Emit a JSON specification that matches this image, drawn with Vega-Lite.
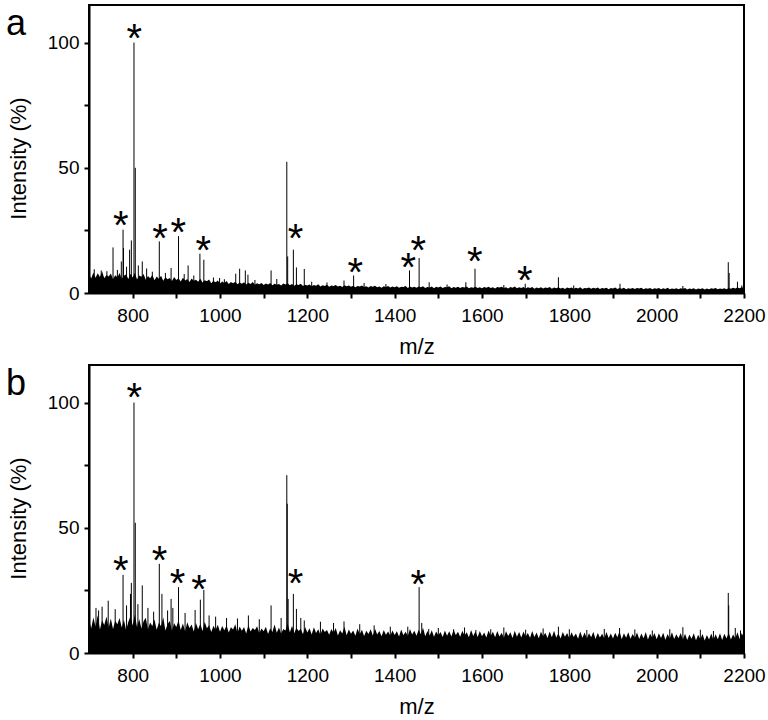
{
"$schema":"https://vega.github.io/schema/vega-lite/v6.json",
"padding":{"left":5,"top":4,"right":5,"bottom":4},
"spacing":6,
"config":{
 "view":{"stroke":"black","strokeWidth":2},
 "font":"Liberation Sans",
 "axis":{"grid":false,"domainColor":"black","domainWidth":2,"tickColor":"black","tickWidth":2,"tickSize":5,"labelColor":"black","titleColor":"black","labelFontSize":19,"titleFontSize":22,"titleFontWeight":"normal","labelFont":"Liberation Sans","titleFont":"Liberation Sans","labelFlush":false,"labelOverlap":false,"format":"d"}
},
"datasets":{
"s":[
{"m":700,"a":7.5,"b":13.5},{"m":705,"a":5.8,"b":9.8},{"m":710,"a":8.2,"b":14.2},{"m":715,"a":6.1,"b":10.6},{"m":720,"a":7.9,"b":15.1},{"m":725,"a":6.4,"b":9.4},{"m":730,"a":8.6,"b":13.0},{"m":735,"a":5.9,"b":11.2},{"m":740,"a":7.2,"b":14.6},{"m":745,"a":6.6,"b":10.1},
{"m":750,"a":7.8,"b":13.8},{"m":755,"a":5.5,"b":9.6},{"m":760,"a":7.1,"b":12.9},{"m":765,"a":6.3,"b":11.5},{"m":770,"a":8.0,"b":14.0},{"m":775,"a":5.7,"b":10.2},{"m":780,"a":6.9,"b":13.3},{"m":785,"a":7.4,"b":9.1},{"m":790,"a":5.6,"b":12.4},{"m":795,"a":7.7,"b":14.8},
{"m":800,"a":6.2,"b":11.0},{"m":805,"a":8.1,"b":15.5},{"m":810,"a":5.4,"b":10.3},{"m":815,"a":7.0,"b":13.6},{"m":820,"a":6.5,"b":9.8},{"m":825,"a":7.6,"b":12.7},{"m":830,"a":5.3,"b":14.1},{"m":835,"a":6.8,"b":9.5},{"m":840,"a":5.9,"b":12.2},{"m":845,"a":7.2,"b":10.8},
{"m":850,"a":5.1,"b":13.4},{"m":855,"a":6.6,"b":9.3},{"m":860,"a":5.7,"b":12.1},{"m":865,"a":6.9,"b":10.7},{"m":870,"a":4.9,"b":14.3},{"m":875,"a":6.3,"b":9.0},{"m":880,"a":5.5,"b":11.6},{"m":885,"a":6.0,"b":12.8},{"m":890,"a":4.8,"b":8.9},{"m":895,"a":6.4,"b":11.9},
{"m":900,"a":5.2,"b":10.4},{"m":905,"a":5.9,"b":13.1},{"m":910,"a":4.6,"b":9.2},{"m":915,"a":6.1,"b":11.8},{"m":920,"a":5.0,"b":8.7},{"m":925,"a":5.6,"b":12.3},{"m":930,"a":4.4,"b":10.0},{"m":935,"a":5.8,"b":11.4},{"m":940,"a":4.9,"b":8.6},{"m":945,"a":5.3,"b":12.0},
{"m":950,"a":4.5,"b":9.5},{"m":955,"a":5.7,"b":11.7},{"m":960,"a":4.2,"b":8.8},{"m":965,"a":5.1,"b":12.5},{"m":970,"a":4.7,"b":9.9},{"m":975,"a":5.4,"b":11.1},{"m":980,"a":3.9,"b":8.4},{"m":985,"a":4.9,"b":10.9},{"m":990,"a":4.3,"b":9.3},{"m":995,"a":5.0,"b":11.3},
{"m":1000,"a":3.8,"b":8.5},{"m":1005,"a":4.6,"b":10.8},{"m":1010,"a":4.0,"b":9.1},{"m":1015,"a":4.8,"b":11.0},{"m":1020,"a":3.6,"b":8.2},{"m":1025,"a":4.4,"b":10.3},{"m":1030,"a":3.9,"b":9.4},{"m":1035,"a":4.5,"b":11.5},{"m":1040,"a":3.5,"b":8.0},{"m":1045,"a":4.2,"b":10.6},
{"m":1050,"a":3.7,"b":8.9},{"m":1055,"a":4.3,"b":10.4},{"m":1060,"a":3.4,"b":7.8},{"m":1065,"a":4.1,"b":11.2},{"m":1070,"a":3.6,"b":8.6},{"m":1075,"a":4.4,"b":10.0},{"m":1080,"a":3.3,"b":9.2},{"m":1085,"a":3.9,"b":10.7},{"m":1090,"a":3.5,"b":7.9},{"m":1095,"a":4.0,"b":9.8},
{"m":1100,"a":3.2,"b":8.7},{"m":1105,"a":3.8,"b":10.5},{"m":1110,"a":3.4,"b":7.6},{"m":1115,"a":4.0,"b":9.9},{"m":1120,"a":3.1,"b":8.4},{"m":1125,"a":3.7,"b":11.4},{"m":1130,"a":3.3,"b":8.1},{"m":1135,"a":3.6,"b":10.2},{"m":1140,"a":3.0,"b":7.7},{"m":1145,"a":3.8,"b":9.6},
{"m":1150,"a":3.4,"b":9.0},{"m":1155,"a":3.9,"b":11.8},{"m":1160,"a":3.1,"b":8.3},{"m":1165,"a":3.6,"b":10.9},{"m":1170,"a":2.9,"b":7.9},{"m":1175,"a":3.5,"b":10.1},{"m":1180,"a":3.2,"b":8.8},{"m":1185,"a":3.7,"b":9.7},{"m":1190,"a":2.8,"b":7.5},{"m":1195,"a":3.3,"b":10.4},
{"m":1200,"a":3.0,"b":8.2},{"m":1205,"a":3.4,"b":9.9},{"m":1210,"a":2.7,"b":7.4},{"m":1215,"a":3.2,"b":10.3},{"m":1220,"a":2.9,"b":8.0},{"m":1225,"a":3.5,"b":9.5},{"m":1230,"a":2.6,"b":7.2},{"m":1235,"a":3.1,"b":9.8},{"m":1240,"a":2.8,"b":8.4},{"m":1245,"a":3.3,"b":9.2},
{"m":1250,"a":2.5,"b":7.3},{"m":1255,"a":3.0,"b":9.6},{"m":1260,"a":2.8,"b":8.1},{"m":1265,"a":3.2,"b":10.0},{"m":1270,"a":2.6,"b":7.0},{"m":1275,"a":2.9,"b":9.1},{"m":1280,"a":2.4,"b":7.8},{"m":1285,"a":3.1,"b":10.5},{"m":1290,"a":2.7,"b":7.1},{"m":1295,"a":3.0,"b":9.4},
{"m":1300,"a":2.5,"b":7.7},{"m":1305,"a":2.9,"b":9.0},{"m":1310,"a":2.3,"b":6.9},{"m":1315,"a":2.8,"b":9.8},{"m":1320,"a":2.6,"b":7.5},{"m":1325,"a":3.0,"b":9.3},{"m":1330,"a":2.4,"b":6.8},{"m":1335,"a":2.7,"b":8.9},{"m":1340,"a":2.2,"b":7.6},{"m":1345,"a":2.8,"b":9.5},
{"m":1350,"a":2.5,"b":7.0},{"m":1355,"a":2.9,"b":9.7},{"m":1360,"a":2.3,"b":7.4},{"m":1365,"a":2.6,"b":8.8},{"m":1370,"a":2.1,"b":6.7},{"m":1375,"a":2.7,"b":9.2},{"m":1380,"a":2.4,"b":7.3},{"m":1385,"a":2.8,"b":8.6},{"m":1390,"a":2.2,"b":6.9},{"m":1395,"a":2.6,"b":9.0},
{"m":1400,"a":2.3,"b":7.2},{"m":1405,"a":2.7,"b":8.7},{"m":1410,"a":2.1,"b":6.6},{"m":1415,"a":2.5,"b":9.4},{"m":1420,"a":2.4,"b":7.1},{"m":1425,"a":2.8,"b":8.5},{"m":1430,"a":2.0,"b":6.8},{"m":1435,"a":2.6,"b":9.6},{"m":1440,"a":2.2,"b":7.4},{"m":1445,"a":2.5,"b":8.9},
{"m":1450,"a":2.1,"b":6.9},{"m":1455,"a":2.6,"b":9.3},{"m":1460,"a":2.3,"b":7.5},{"m":1465,"a":2.7,"b":10.1},{"m":1470,"a":2.0,"b":6.7},{"m":1475,"a":2.4,"b":8.8},{"m":1480,"a":2.2,"b":7.0},{"m":1485,"a":2.6,"b":9.1},{"m":1490,"a":1.9,"b":6.5},{"m":1495,"a":2.5,"b":8.6},
{"m":1500,"a":2.2,"b":7.1},{"m":1505,"a":2.6,"b":8.4},{"m":1510,"a":2.0,"b":6.4},{"m":1515,"a":2.4,"b":9.0},{"m":1520,"a":2.3,"b":6.9},{"m":1525,"a":2.7,"b":8.7},{"m":1530,"a":1.9,"b":6.6},{"m":1535,"a":2.4,"b":9.3},{"m":1540,"a":2.1,"b":7.2},{"m":1545,"a":2.5,"b":8.5},
{"m":1550,"a":2.0,"b":6.5},{"m":1555,"a":2.4,"b":8.9},{"m":1560,"a":2.2,"b":7.0},{"m":1565,"a":2.6,"b":8.3},{"m":1570,"a":1.9,"b":6.3},{"m":1575,"a":2.3,"b":9.2},{"m":1580,"a":2.1,"b":6.8},{"m":1585,"a":2.5,"b":8.6},{"m":1590,"a":2.0,"b":6.4},{"m":1595,"a":2.3,"b":8.8},
{"m":1600,"a":1.9,"b":6.7},{"m":1605,"a":2.4,"b":8.2},{"m":1610,"a":2.1,"b":6.2},{"m":1615,"a":2.5,"b":9.0},{"m":1620,"a":2.0,"b":6.9},{"m":1625,"a":2.3,"b":8.5},{"m":1630,"a":1.8,"b":6.3},{"m":1635,"a":2.4,"b":8.8},{"m":1640,"a":2.2,"b":6.6},{"m":1645,"a":2.5,"b":8.1},
{"m":1650,"a":2.0,"b":6.1},{"m":1655,"a":2.3,"b":8.7},{"m":1660,"a":1.8,"b":6.8},{"m":1665,"a":2.4,"b":8.3},{"m":1670,"a":2.1,"b":6.0},{"m":1675,"a":2.6,"b":8.9},{"m":1680,"a":1.9,"b":6.5},{"m":1685,"a":2.3,"b":8.4},{"m":1690,"a":2.0,"b":6.2},{"m":1695,"a":2.4,"b":8.6},
{"m":1700,"a":1.8,"b":6.6},{"m":1705,"a":2.3,"b":8.0},{"m":1710,"a":2.0,"b":6.1},{"m":1715,"a":2.4,"b":8.8},{"m":1720,"a":1.7,"b":6.4},{"m":1725,"a":2.2,"b":8.2},{"m":1730,"a":1.9,"b":5.9},{"m":1735,"a":2.3,"b":8.5},{"m":1740,"a":1.8,"b":6.7},{"m":1745,"a":2.2,"b":8.1},
{"m":1750,"a":2.0,"b":6.0},{"m":1755,"a":2.4,"b":8.6},{"m":1760,"a":1.7,"b":6.3},{"m":1765,"a":2.2,"b":8.9},{"m":1770,"a":1.9,"b":6.2},{"m":1775,"a":2.3,"b":7.9},{"m":1780,"a":1.8,"b":5.8},{"m":1785,"a":2.1,"b":8.4},{"m":1790,"a":1.6,"b":6.5},{"m":1795,"a":2.2,"b":8.0},
{"m":1800,"a":1.9,"b":5.9},{"m":1805,"a":2.2,"b":8.3},{"m":1810,"a":1.7,"b":6.4},{"m":1815,"a":2.1,"b":7.8},{"m":1820,"a":1.8,"b":5.7},{"m":1825,"a":2.3,"b":8.6},{"m":1830,"a":1.6,"b":6.1},{"m":1835,"a":2.0,"b":8.2},{"m":1840,"a":1.9,"b":5.8},{"m":1845,"a":2.2,"b":7.9},
{"m":1850,"a":1.7,"b":6.3},{"m":1855,"a":2.1,"b":8.5},{"m":1860,"a":1.8,"b":5.6},{"m":1865,"a":2.2,"b":8.0},{"m":1870,"a":1.6,"b":6.2},{"m":1875,"a":2.0,"b":7.7},{"m":1880,"a":1.8,"b":5.9},{"m":1885,"a":2.1,"b":8.4},{"m":1890,"a":1.5,"b":6.0},{"m":1895,"a":2.0,"b":7.8},
{"m":1900,"a":1.8,"b":5.8},{"m":1905,"a":2.2,"b":8.1},{"m":1910,"a":1.6,"b":6.3},{"m":1915,"a":2.0,"b":8.7},{"m":1920,"a":1.7,"b":5.5},{"m":1925,"a":2.1,"b":7.9},{"m":1930,"a":1.5,"b":6.1},{"m":1935,"a":1.9,"b":8.3},{"m":1940,"a":1.7,"b":5.7},{"m":1945,"a":2.0,"b":7.6},
{"m":1950,"a":1.6,"b":6.0},{"m":1955,"a":2.0,"b":8.2},{"m":1960,"a":1.8,"b":5.6},{"m":1965,"a":2.1,"b":7.8},{"m":1970,"a":1.5,"b":5.9},{"m":1975,"a":1.9,"b":8.4},{"m":1980,"a":1.7,"b":5.4},{"m":1985,"a":2.0,"b":7.7},{"m":1990,"a":1.5,"b":6.1},{"m":1995,"a":1.9,"b":8.0},
{"m":2000,"a":1.7,"b":5.5},{"m":2005,"a":2.0,"b":7.9},{"m":2010,"a":1.5,"b":6.0},{"m":2015,"a":1.9,"b":8.1},{"m":2020,"a":1.6,"b":5.3},{"m":2025,"a":2.1,"b":7.6},{"m":2030,"a":1.5,"b":5.8},{"m":2035,"a":1.8,"b":8.3},{"m":2040,"a":1.6,"b":5.6},{"m":2045,"a":1.9,"b":7.5},
{"m":2050,"a":1.5,"b":5.9},{"m":2055,"a":1.9,"b":8.0},{"m":2060,"a":1.7,"b":5.4},{"m":2065,"a":2.0,"b":7.7},{"m":2070,"a":1.4,"b":5.2},{"m":2075,"a":1.8,"b":7.4},{"m":2080,"a":1.6,"b":5.7},{"m":2085,"a":1.9,"b":7.9},{"m":2090,"a":1.4,"b":5.1},{"m":2095,"a":1.8,"b":7.3},
{"m":2100,"a":1.6,"b":5.6},{"m":2105,"a":1.9,"b":7.6},{"m":2110,"a":1.4,"b":5.0},{"m":2115,"a":1.8,"b":7.2},{"m":2120,"a":1.5,"b":5.4},{"m":2125,"a":1.9,"b":7.8},{"m":2130,"a":1.7,"b":5.3},{"m":2135,"a":2.0,"b":7.5},{"m":2140,"a":1.5,"b":5.5},{"m":2145,"a":1.8,"b":7.9},
{"m":2150,"a":1.6,"b":5.2},{"m":2155,"a":1.9,"b":7.7},{"m":2160,"a":1.5,"b":5.8},{"m":2165,"a":2.0,"b":8.1},{"m":2170,"a":1.7,"b":5.4},{"m":2175,"a":2.1,"b":7.4},{"m":2180,"a":1.8,"b":5.9},{"m":2185,"a":2.2,"b":8.3},{"m":2190,"a":1.9,"b":5.6},{"m":2195,"a":2.3,"b":8.0},
{"m":2200,"a":2.0,"b":6.0}
],
"pk":[
{"p":"a","m":712,"i":9.5},{"p":"a","m":728,"i":9.0},{"p":"a","m":741,"i":8.7},{"p":"a","m":755,"i":18.2},{"p":"a","m":765,"i":9.2},{"p":"a","m":774,"i":12.6},{"p":"a","m":778,"i":25.3},{"p":"a","m":779,"i":18},{"p":"a","m":786,"i":10.5},{"p":"a","m":793,"i":17.3},{"p":"a","m":797,"i":21},{"p":"a","m":803,"i":100},{"p":"a","m":806,"i":50},{"p":"a","m":813,"i":11},{"p":"a","m":822,"i":12.6},{"p":"a","m":832,"i":9.8},{"p":"a","m":845,"i":8.5},{"p":"a","m":861,"i":20.6},{"p":"a","m":875,"i":8},{"p":"a","m":888,"i":10},{"p":"a","m":905,"i":22.7},{"p":"a","m":918,"i":7.6},{"p":"a","m":927,"i":11},{"p":"a","m":940,"i":7},{"p":"a","m":954,"i":15.7},{"p":"a","m":963,"i":13.3},{"p":"a","m":985,"i":6.2},{"p":"a","m":999,"i":6},{"p":"a","m":1010,"i":5.5},{"p":"a","m":1036,"i":7.7},{"p":"a","m":1045,"i":9.7},{"p":"a","m":1058,"i":9},{"p":"a","m":1064,"i":7.3},{"p":"a","m":1080,"i":5.2},{"p":"a","m":1117,"i":9},{"p":"a","m":1130,"i":5.6},{"p":"a","m":1153,"i":52.4},{"p":"a","m":1155,"i":14.6},{"p":"a","m":1168,"i":17.3},{"p":"a","m":1175,"i":10.2},{"p":"a","m":1193,"i":9.6},{"p":"a","m":1210,"i":4.5},{"p":"a","m":1245,"i":4.2},{"p":"a","m":1284,"i":5},{"p":"a","m":1306,"i":7},{"p":"a","m":1330,"i":4},{"p":"a","m":1380,"i":3.6},{"p":"a","m":1434,"i":9},{"p":"a","m":1456,"i":14},{"p":"a","m":1479,"i":4.3},{"p":"a","m":1520,"i":3.4},{"p":"a","m":1563,"i":4.3},{"p":"a","m":1584,"i":9.7},{"p":"a","m":1650,"i":3.2},{"p":"a","m":1699,"i":3.7},{"p":"a","m":1775,"i":6.3},{"p":"a","m":1810,"i":3},{"p":"a","m":1916,"i":3.7},{"p":"a","m":2060,"i":2.8},{"p":"a","m":2164,"i":12.3},{"p":"a","m":2166,"i":8},{"p":"a","m":2185,"i":4.5},{"p":"a","m":2195,"i":3},
{"p":"b","m":716,"i":18},{"p":"b","m":722,"i":17},{"p":"b","m":730,"i":18.5},{"p":"b","m":744,"i":20.9},{"p":"b","m":760,"i":17.5},{"p":"b","m":778,"i":31.2},{"p":"b","m":786,"i":19},{"p":"b","m":795,"i":23.6},{"p":"b","m":797,"i":28},{"p":"b","m":803,"i":100},{"p":"b","m":806,"i":52},{"p":"b","m":812,"i":19.5},{"p":"b","m":822,"i":27},{"p":"b","m":835,"i":18},{"p":"b","m":848,"i":16.5},{"p":"b","m":861,"i":35.6},{"p":"b","m":867,"i":23.6},{"p":"b","m":880,"i":17},{"p":"b","m":888,"i":21.6},{"p":"b","m":892,"i":18},{"p":"b","m":905,"i":26.3},{"p":"b","m":920,"i":16},{"p":"b","m":943,"i":17.2},{"p":"b","m":955,"i":21.3},{"p":"b","m":963,"i":25.2},{"p":"b","m":975,"i":15},{"p":"b","m":990,"i":14.5},{"p":"b","m":1015,"i":14},{"p":"b","m":1040,"i":13.8},{"p":"b","m":1065,"i":15},{"p":"b","m":1090,"i":13.5},{"p":"b","m":1117,"i":19},{"p":"b","m":1140,"i":14},{"p":"b","m":1153,"i":71},{"p":"b","m":1154,"i":59.6},{"p":"b","m":1156,"i":21.6},{"p":"b","m":1168,"i":23.6},{"p":"b","m":1175,"i":17.6},{"p":"b","m":1185,"i":14},{"p":"b","m":1193,"i":13},{"p":"b","m":1230,"i":12.5},{"p":"b","m":1260,"i":12},{"p":"b","m":1284,"i":12.6},{"p":"b","m":1320,"i":11.5},{"p":"b","m":1353,"i":11},{"p":"b","m":1390,"i":10.5},{"p":"b","m":1430,"i":10.5},{"p":"b","m":1456,"i":26.3},{"p":"b","m":1462,"i":12},{"p":"b","m":1478,"i":9.6},{"p":"b","m":1500,"i":10},{"p":"b","m":1535,"i":9.5},{"p":"b","m":1560,"i":10.2},{"p":"b","m":1586,"i":9.2},{"p":"b","m":1620,"i":9.5},{"p":"b","m":1650,"i":10.2},{"p":"b","m":1700,"i":9.3},{"p":"b","m":1740,"i":9.8},{"p":"b","m":1775,"i":10.5},{"p":"b","m":1800,"i":9.5},{"p":"b","m":1840,"i":9.2},{"p":"b","m":1880,"i":9.6},{"p":"b","m":1915,"i":10},{"p":"b","m":1950,"i":9.4},{"p":"b","m":1990,"i":9},{"p":"b","m":2030,"i":9.5},{"p":"b","m":2060,"i":10.3},{"p":"b","m":2100,"i":9.3},{"p":"b","m":2130,"i":8.8},{"p":"b","m":2164,"i":24},{"p":"b","m":2165,"i":19},{"p":"b","m":2180,"i":10},{"p":"b","m":2192,"i":9}
],
"st":[
{"p":"a","m":803.7,"y":104.6},{"p":"a","m":773,"y":30},{"p":"a","m":862.5,"y":24.6},{"p":"a","m":904.4,"y":27},{"p":"a","m":961.7,"y":20},{"p":"a","m":1173,"y":24.9},{"p":"a","m":1309.6,"y":11},{"p":"a","m":1430.9,"y":13.3},{"p":"a","m":1453.8,"y":20},{"p":"a","m":1583.5,"y":15.7},{"p":"a","m":1698,"y":8},
{"p":"b","m":803.7,"y":104.9},{"p":"b","m":773,"y":36},{"p":"b","m":861.8,"y":40},{"p":"b","m":903,"y":30.6},{"p":"b","m":951.8,"y":28.2},{"p":"b","m":1173,"y":30.6},{"p":"b","m":1453.8,"y":30.2}
],
"lb":[{"p":"a","m":700,"y":115,"t":"a"},{"p":"b","m":700,"y":115,"t":"b"}]
},
"vconcat":[
{"width":655,"height":288,
 "layer":[
  {"data":{"name":"s"},"mark":{"type":"area","color":"black","interpolate":"linear"},
   "encoding":{
    "x":{"field":"m","type":"quantitative","scale":{"domain":[700,2200],"nice":false},"axis":{"title":"m/z","values":[800,900,1000,1100,1200,1300,1400,1500,1600,1700,1800,1900,2000,2100,2200],"labelExpr":"datum.value % 200 == 0 ? datum.label : ''","labelPadding":8,"titlePadding":11}},
    "y":{"field":"a","type":"quantitative","scale":{"domain":[0,115],"nice":false},"axis":{"title":"Intensity (%)","values":[0,25,50,75,100],"labelExpr":"datum.value % 50 == 0 ? datum.label : ''","labelPadding":5,"titlePadding":17,"titleY":153}}}},
  {"data":{"name":"pk"},"transform":[{"filter":"datum.p == 'a'"}],"mark":{"type":"rule","color":"black","strokeWidth":1},
   "encoding":{"x":{"field":"m","type":"quantitative"},"y":{"field":"i","type":"quantitative"},"y2":{"datum":0}}},
  {"data":{"name":"st"},"transform":[{"filter":"datum.p == 'a'"}],"mark":{"type":"text","text":"*","fontSize":40,"font":"Liberation Sans","color":"black","baseline":"alphabetic","align":"center","dy":21},
   "encoding":{"x":{"field":"m","type":"quantitative"},"y":{"field":"y","type":"quantitative"}}},
  {"data":{"name":"lb"},"transform":[{"filter":"datum.p == 'a'"}],"mark":{"type":"text","fontSize":36,"font":"Liberation Sans","color":"black","baseline":"alphabetic","align":"left","dx":-83,"dy":30},
   "encoding":{"x":{"field":"m","type":"quantitative"},"y":{"field":"y","type":"quantitative"},"text":{"field":"t"}}}
 ]},
{"width":655,"height":288,
 "layer":[
  {"data":{"name":"s"},"mark":{"type":"area","color":"black","interpolate":"linear"},
   "encoding":{
    "x":{"field":"m","type":"quantitative","scale":{"domain":[700,2200],"nice":false},"axis":{"title":"m/z","values":[800,900,1000,1100,1200,1300,1400,1500,1600,1700,1800,1900,2000,2100,2200],"labelExpr":"datum.value % 200 == 0 ? datum.label : ''","labelPadding":8,"titlePadding":11}},
    "y":{"field":"b","type":"quantitative","scale":{"domain":[0,115],"nice":false},"axis":{"title":"Intensity (%)","values":[0,25,50,75,100],"labelExpr":"datum.value % 50 == 0 ? datum.label : ''","labelPadding":5,"titlePadding":17,"titleY":153}}}},
  {"data":{"name":"pk"},"transform":[{"filter":"datum.p == 'b'"}],"mark":{"type":"rule","color":"black","strokeWidth":1},
   "encoding":{"x":{"field":"m","type":"quantitative"},"y":{"field":"i","type":"quantitative"},"y2":{"datum":0}}},
  {"data":{"name":"st"},"transform":[{"filter":"datum.p == 'b'"}],"mark":{"type":"text","text":"*","fontSize":40,"font":"Liberation Sans","color":"black","baseline":"alphabetic","align":"center","dy":21},
   "encoding":{"x":{"field":"m","type":"quantitative"},"y":{"field":"y","type":"quantitative"}}},
  {"data":{"name":"lb"},"transform":[{"filter":"datum.p == 'b'"}],"mark":{"type":"text","fontSize":36,"font":"Liberation Sans","color":"black","baseline":"alphabetic","align":"left","dx":-83,"dy":30},
   "encoding":{"x":{"field":"m","type":"quantitative"},"y":{"field":"y","type":"quantitative"},"text":{"field":"t"}}}
 ]}
]
}
